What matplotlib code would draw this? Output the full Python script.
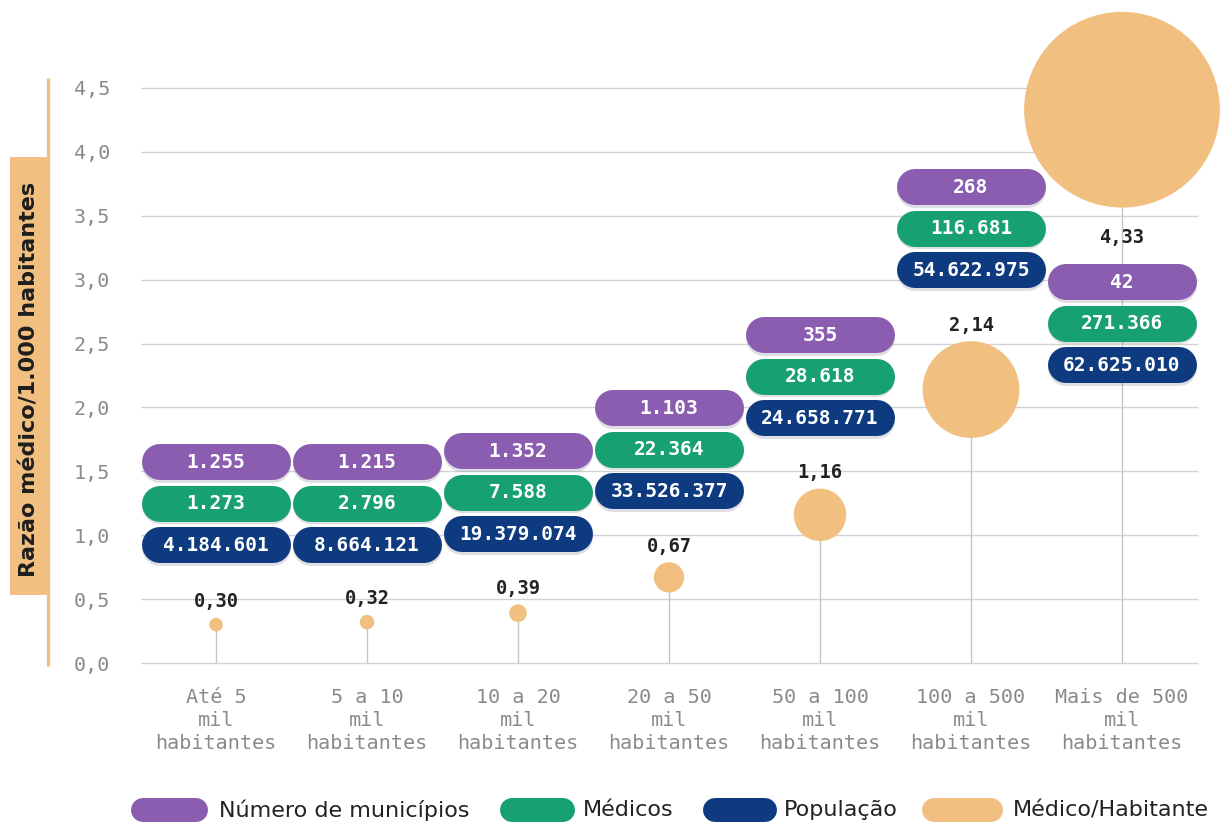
import numpy as np
import matplotlib
matplotlib.use("Agg")
import matplotlib.pyplot as plt
from matplotlib.patches import Rectangle

# ---------------- data ----------------
categories = ["Até 5\nmil\nhabitantes", "5 a 10\nmil\nhabitantes", "10 a 20\nmil\nhabitantes",
              "20 a 50\nmil\nhabitantes", "50 a 100\nmil\nhabitantes", "100 a 500\nmil\nhabitantes",
              "Mais de 500\nmil\nhabitantes"]
municipios = [1255, 1215, 1352, 1103, 355, 268, 42]
medicos = [1273, 2796, 7588, 22364, 28618, 116681, 271366]
populacao = [4184601, 8664121, 19379074, 33526377, 24658771, 54622975, 62625010]
razao = [0.30, 0.32, 0.39, 0.67, 1.16, 2.14, 4.33]
yticks = [0.0, 0.5, 1.0, 1.5, 2.0, 2.5, 3.0, 3.5, 4.0, 4.5]
legend_labels = ["Número de municípios", "Médicos", "População", "Médico/Habitante"]

# ---------------- layout ----------------
pill_row_y = [1.573, 1.573, 1.659, 1.995, 2.566, 3.725, 2.981]   # centre of top pill
label_side = [1, 1, 1, 1, 1, 1, -1]

C_PURPLE = "#8B5DB0"
C_GREEN = "#17A070"
C_NAVY = "#0E3A80"
C_ORANGE = "#F1BF80"
C_GRID = "#d2d2d2"
C_TICK = "#8a8a8a"
MONO = "DejaVu Sans Mono"

W, H = 1225, 827
PT = 0.72  # points per pixel at dpi 100
fig = plt.figure(figsize=(W / 100, H / 100), dpi=100)

ax_left, ax_right, ax_bot, ax_top = 140.5, 1197.5, 663, 88
ax = fig.add_axes([ax_left / W, (H - ax_bot) / H, (ax_right - ax_left) / W, (ax_bot - ax_top) / H])
ax.patch.set_alpha(0)
n = len(categories)
x = np.arange(n)
ax.set_xlim(-0.5, n - 0.5)
ax.set_ylim(0, 4.5)
for s in ax.spines.values():
    s.set_visible(False)

px_x = (ax_right - ax_left) / n          # pixels per x unit
px_y = (ax_bot - ax_top) / 4.5          # pixels per y unit

ax.set_yticks(yticks)
ax.set_yticklabels([f"{t:.1f}".replace(".", ",") for t in yticks], family=MONO)
ax.hlines(yticks, -0.5, n - 0.5, color=C_GRID, lw=1, zorder=0, clip_on=False)
ax.tick_params(axis="y", length=0, pad=22, labelsize=14.5, labelcolor=C_TICK)
ax.set_xticks(x)
ax.set_xticklabels(categories, linespacing=1.27, family=MONO)
ax.tick_params(axis="x", length=0, pad=18, labelsize=14.5, labelcolor=C_TICK)

# stems
ax.vlines(x, 0, razao, color="#c4c4c4", lw=1, zorder=1)

# bubbles (radius proportional to value)
r_px = [22.6 * v for v in razao]
sizes = [(2 * r * PT) ** 2 for r in r_px]
ax.scatter(x, razao, s=sizes, color=C_ORANGE, zorder=3, clip_on=False, linewidths=0)

# value labels
for xi, v, r, side in zip(x, razao, r_px, label_side):
    off = (r + 16) if side > 0 else -(r + 30)
    ax.annotate(f"{v:.2f}".replace(".", ","), (xi, v), xytext=(0, off * PT),
                textcoords="offset points", ha="center", va="center", family=MONO,
                fontsize=13.5, fontweight="bold", color="#222222", zorder=6)

# pills (stadium shapes drawn as thick round-capped lines)
def fmt(v):
    return f"{v:,}".replace(",", ".")

pill_w_px = 149
pill_h_px = 36
step = 41.5 / px_y
half = (pill_w_px - pill_h_px) / 2 / px_x
for i in range(n):
    for j, (vals, col) in enumerate([(municipios, C_PURPLE), (medicos, C_GREEN), (populacao, C_NAVY)]):
        yc = pill_row_y[i] - j * step
        ax.plot([x[i] - half, x[i] + half], [yc - 2.5 / px_y] * 2, color="#6a6a85", alpha=0.22,
                lw=pill_h_px * PT, solid_capstyle="round", zorder=4)
        ax.plot([x[i] - half, x[i] + half], [yc, yc], color=col,
                lw=pill_h_px * PT, solid_capstyle="round", zorder=5)
        ax.text(x[i], yc, fmt(vals[i]), ha="center", va="center", color="white", family=MONO,
                fontsize=14, fontweight="bold", zorder=6)

# ---------------- overlay (pixel coordinates) ----------------
ov = fig.add_axes([0, 0, 1, 1], zorder=-1)
ov.set_xlim(0, W)
ov.set_ylim(H, 0)
ov.axis("off")

ov.plot([48, 48], [78, 666], color=C_ORANGE, lw=2.4, solid_capstyle="butt")
ov.add_patch(Rectangle((10, 157), 39, 438, fc=C_ORANGE, ec="none"))
ov.text(29.5, 379, "Razão médico/1.000 habitantes", rotation=90, ha="center", va="center",
        fontsize=16, fontweight="bold", color="#1e1e1e")

leg_x = [131, 500, 703, 922]
leg_w = [77, 75, 74, 81]
leg_tx = [219, 583, 784, 1013]
leg_cols = [C_PURPLE, C_GREEN, C_NAVY, C_ORANGE]
ly = 810
lh = 24
for lx, lw_, tx, col, lab in zip(leg_x, leg_w, leg_tx, leg_cols, legend_labels):
    ov.plot([lx + lh / 2, lx + lw_ - lh / 2], [ly, ly], color=col, lw=lh * PT, solid_capstyle="round")
    ov.text(tx, ly, lab, ha="left", va="center", fontsize=16, color="#222222")

fig.savefig("out.png", dpi=100)
